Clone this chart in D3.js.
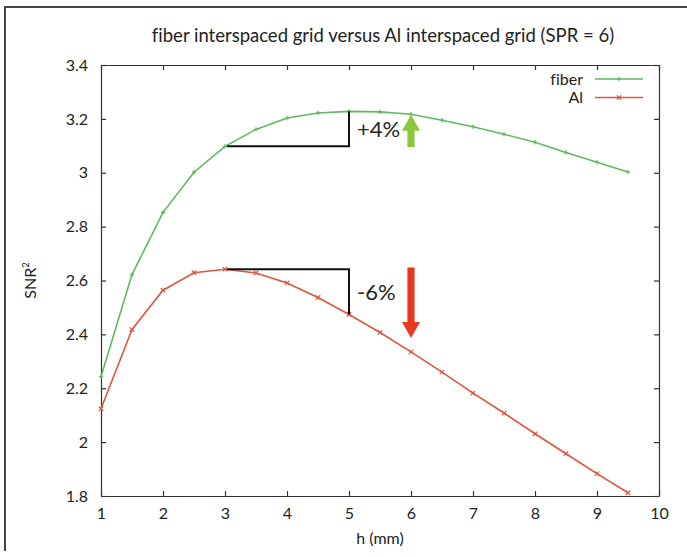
<!DOCTYPE html>
<html><head><meta charset="utf-8">
<script src="https://cdn.jsdelivr.net/npm/d3@7"></script>
<style>
body{margin:0;background:#fff;}
svg{display:block;font-family:Lato,"Open Sans",sans-serif;font-variant-ligatures:none;}
</style></head>
<body>
<svg id="chart" width="687" height="557"></svg>
<script>
const title = "fiber interspaced grid versus Al interspaced grid (SPR = 6)";
const hValues = [1,1.5,2,2.5,3,3.5,4,4.5,5,5.5,6,6.5,7,7.5,8,8.5,9,9.5];
const fiberValues = [2.243,2.622,2.853,3.002,3.098,3.161,3.203,3.222,3.228,3.226,3.217,3.195,3.171,3.143,3.113,3.075,3.039,3.003];
const alValues = [2.124,2.418,2.564,2.629,2.642,2.628,2.591,2.537,2.474,2.407,2.335,2.260,2.182,2.108,2.031,1.957,1.883,1.812];
const xTicks = [1,2,3,4,5,6,7,8,9,10];
const yTicks = [1.8,2,2.2,2.4,2.6,2.8,3,3.2,3.4];
const seriesNames = ["fiber","Al"];
const seriesColors = ["#62b862","#e0553f"];
const annotLabels = ["+4%","-6%"];

const svg = d3.select("#chart");
const m = {l:101, r:659, t:65, b:496};
const x = d3.scaleLinear().domain([1,10]).range([m.l,m.r]);
const y = d3.scaleLinear().domain([1.8,3.4]).range([m.b,m.t]);

// outer frame (top and left)
svg.append("path").attr("d","M5,551 L5,7 L687,7").attr("fill","none").attr("stroke","#444").attr("stroke-width",2);

// title
svg.append("text").attr("x",(m.l+m.r)/2+3).attr("y",42).attr("text-anchor","middle")
  .attr("font-size",18.5).attr("fill","#222").text(title);

// axes with inward ticks
const tickLen = 5;
const gx = svg.append("g").attr("transform",`translate(0,${m.b})`)
  .call(d3.axisBottom(x).tickValues(xTicks).tickFormat(d3.format("d")).tickSizeInner(-tickLen).tickSizeOuter(0).tickPadding(12));
const gxTop = svg.append("g").attr("transform",`translate(0,${m.t})`)
  .call(d3.axisTop(x).tickValues(xTicks).tickFormat("").tickSizeInner(-tickLen).tickSizeOuter(0));
const gy = svg.append("g").attr("transform",`translate(${m.l},0)`)
  .call(d3.axisLeft(y).tickValues(yTicks).tickFormat(d=>d3.format("")(+d.toFixed(1))).tickSizeInner(-tickLen).tickSizeOuter(0).tickPadding(13));
const gyR = svg.append("g").attr("transform",`translate(${m.r},0)`)
  .call(d3.axisRight(y).tickValues(yTicks).tickFormat("").tickSizeInner(-tickLen).tickSizeOuter(0));
[gx,gxTop,gy,gyR].forEach(g=>{
  g.select(".domain").attr("stroke","#333").attr("stroke-width",1.2);
  g.selectAll(".tick line").attr("stroke","#333").attr("stroke-width",1.2);
  g.selectAll("text").attr("font-size",16).attr("fill","#222").attr("font-family","Lato,sans-serif");
});

// axis titles
svg.append("text").attr("x",(m.l+m.r)/2).attr("y",544).attr("text-anchor","middle")
  .attr("font-size",16).attr("fill","#222").text("h (mm)");
const yl = svg.append("text").attr("transform",`translate(36,${(m.t+m.b)/2}) rotate(-90)`)
  .attr("text-anchor","middle").attr("font-size",16).attr("fill","#222");
yl.append("tspan").text("SNR");
yl.append("tspan").attr("font-size",9.5).attr("dy",-7).text("2");

// series
const seriesData = [fiberValues, alValues];
const line = d3.line().x((d,i)=>x(hValues[i])).y(d=>y(d));
seriesData.forEach((vals,k)=>{
  svg.append("path").datum(vals).attr("d",line).attr("fill","none")
    .attr("stroke",seriesColors[k]).attr("stroke-width",1.6);
  const s = 2.2;
  svg.append("g").selectAll("path").data(vals).join("path")
    .attr("d",(d,i)=>{const cx=x(hValues[i]), cy=y(d);
      return k===0 ? `M${cx-s},${cy}L${cx+s},${cy}M${cx},${cy-s}L${cx},${cy+s}`
                   : `M${cx-s},${cy-s}L${cx+s},${cy+s}M${cx-s},${cy+s}L${cx+s},${cy-s}`;})
    .attr("stroke",seriesColors[k]).attr("stroke-width",1.2).attr("fill","none");
});

// legend
seriesNames.forEach((n,k)=>{
  const ly = 79 + k*18.5;
  svg.append("text").attr("x",583).attr("y",ly+5.5).attr("text-anchor","end")
    .attr("font-size",16).attr("fill","#222").text(n);
  svg.append("line").attr("x1",595).attr("x2",643).attr("y1",ly).attr("y2",ly)
    .attr("stroke",seriesColors[k]).attr("stroke-width",1.6);
  const cx=619, s=2.2;
  svg.append("path").attr("d", k===0 ? `M${cx-s},${ly}L${cx+s},${ly}M${cx},${ly-s}L${cx},${ly+s}`
                   : `M${cx-s},${ly-s}L${cx+s},${ly+s}M${cx-s},${ly+s}L${cx+s},${ly-s}`)
    .attr("stroke",seriesColors[k]).attr("stroke-width",1.2);
});

// annotation brackets (from data at h=3 and h=5)
const i3 = hValues.indexOf(3), i5 = hValues.indexOf(5), i6 = hValues.indexOf(6);
seriesData.forEach((vals,k)=>{
  svg.append("path")
    .attr("d",`M${x(3)+2},${y(vals[i3])}L${x(5)},${y(vals[i3])}L${x(5)},${y(vals[i5])}`)
    .attr("fill","none").attr("stroke","#111").attr("stroke-width",2);
  const mid = (y(vals[i3])+y(vals[i5]))/2;
  svg.append("text").attr("x",x(5)+8).attr("y",mid+8).attr("font-size",22).attr("fill","#222").text(annotLabels[k]);
});

// arrows at h=6
function arrow(xc, y0, y1, color){
  const dir = Math.sign(y1-y0), headL = 16, headW = 9, shaftW = 3.6;
  const yb = y1 - dir*headL;
  const d = `M${xc-shaftW},${y0}L${xc+shaftW},${y0}L${xc+shaftW},${yb}L${xc+headW},${yb}L${xc},${y1}L${xc-headW},${yb}L${xc-shaftW},${yb}Z`;
  svg.append("path").attr("d",d).attr("fill",color);
}
arrow(x(6), y(3.096), y(fiberValues[i6])+0.5, "#8cc63f");
arrow(x(6), y(2.648), y(2.335)-14, "#e8381e");
</script>
</body></html>
